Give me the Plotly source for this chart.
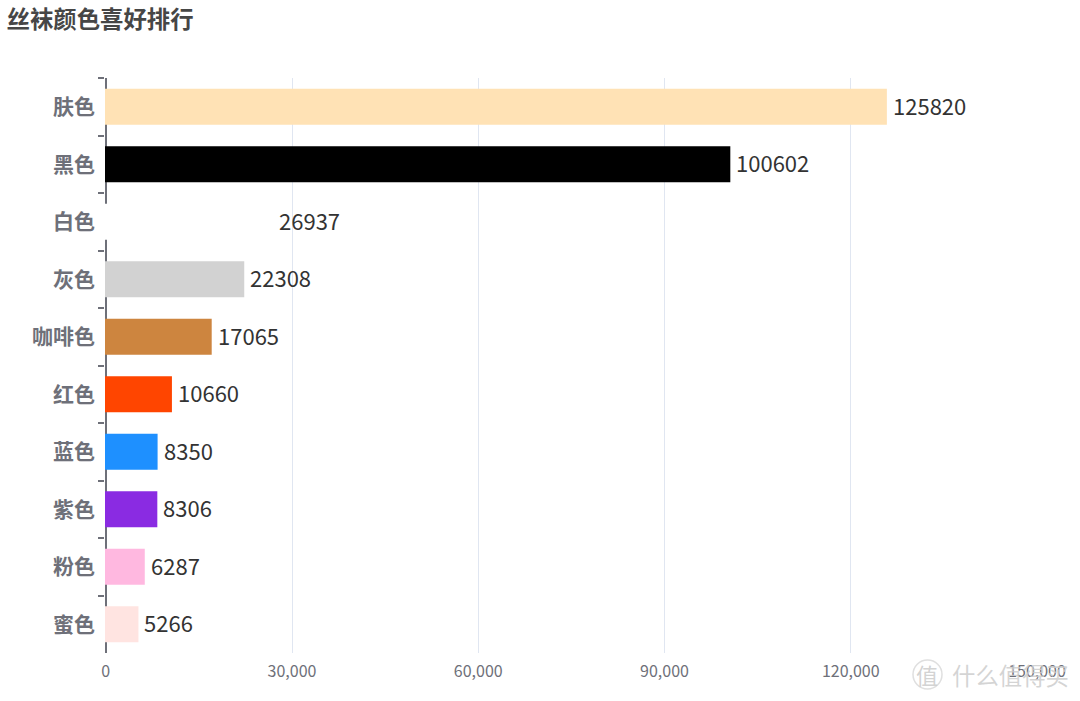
import plotly.graph_objects as go

categories = ["肤色", "黑色", "白色", "灰色", "咖啡色", "红色", "蓝色", "紫色", "粉色", "蜜色"]
values = [125820, 100602, 26937, 22308, 17065, 10660, 8350, 8306, 6287, 5266]
colors = ["#FFE2B5", "#000000", "#FFFFFF", "#D2D2D2", "#CD853F", "#FF4500", "#1E90FF", "#8A2BE2", "#FFB8E0", "#FFE4E1"]
x_ticks = [0, 30000, 60000, 90000, 120000, 150000]
x_tick_labels = ["0", "30,000", "60,000", "90,000", "120,000", "150,000"]
title = "丝袜颜色喜好排行"
FONT = "Noto Sans CJK SC"
BASE = -121  # axis start: the axis line is the zero line, and bars from here cover it as in the reference

W, H = 1080, 701
L, R, T, B = 105, 43, 78, 48
def px(x):
    return (x - L) / (W - L - R)
def py(y):
    return 1 - (y - T) / (H - T - B)

value_labels = [
    dict(text=str(v), x=v, y=c, xref="x", yref="y", xanchor="left", yanchor="middle", xshift=4, yshift=2,
         showarrow=False, font=dict(family=FONT, size=22, color="#333333"))
    for v, c in zip(values, categories)
]

fig = go.Figure(go.Bar(
    y=categories, x=[v - BASE for v in values], base=BASE, orientation="h",
    marker=dict(color=colors, line=dict(width=0)),
    hoverinfo="skip",
))
fig.update_layout(
    width=W, height=H,
    margin=dict(l=L, r=R, t=T, b=B),
    paper_bgcolor="white", plot_bgcolor="white",
    showlegend=False, bargap=0.374,
    title=dict(text=f"<b>{title}</b>", x=6.5/W, xanchor="left", y=1-19.5/H, yanchor="middle",
               font=dict(family=FONT, size=23.4, color="#464646")),
    xaxis=dict(range=[BASE, 150000], tickvals=x_ticks, ticktext=x_tick_labels,
               showgrid=True, gridcolor="#E0E6F1", gridwidth=1,
               zeroline=True, zerolinecolor="#6E7079", zerolinewidth=1.5,
               showline=False, ticks="", ticklabelstandoff=7,
               tickfont=dict(family=FONT, size=16, color="#6E7079")),
    yaxis=dict(autorange="reversed", type="category", tickson="boundaries", ticks="outside",
               ticklen=6.5, tickwidth=1.5, tickcolor="#6E7079", showline=False,
               showgrid=False, zeroline=False, ticklabelstandoff=9,
               tickfont=dict(family=FONT, size=21, color="#6E7079", weight="bold")),
    annotations=value_labels + [
        dict(text="什么值得买", x=px(1071), y=py(675), xref="paper", yref="paper", xanchor="right", yanchor="middle",
             showarrow=False, font=dict(family=FONT, size=23.4, color="rgba(205,205,205,0.85)")),
        dict(text="值", x=px(927), y=py(674), xref="paper", yref="paper", xanchor="center", yanchor="middle",
             showarrow=False, font=dict(family=FONT, size=22, color="rgba(205,205,205,0.9)")),
    ],
    shapes=[dict(type="circle", xref="paper", yref="paper", x0=px(913), x1=px(942), y0=py(689), y1=py(660),
                 line=dict(color="rgba(215,215,215,0.8)", width=1.5))],
)
fig.write_html("out.html", config=dict(displayModeBar=False),
               post_script="document.body.style.margin='0';document.documentElement.style.overflow='hidden';")
